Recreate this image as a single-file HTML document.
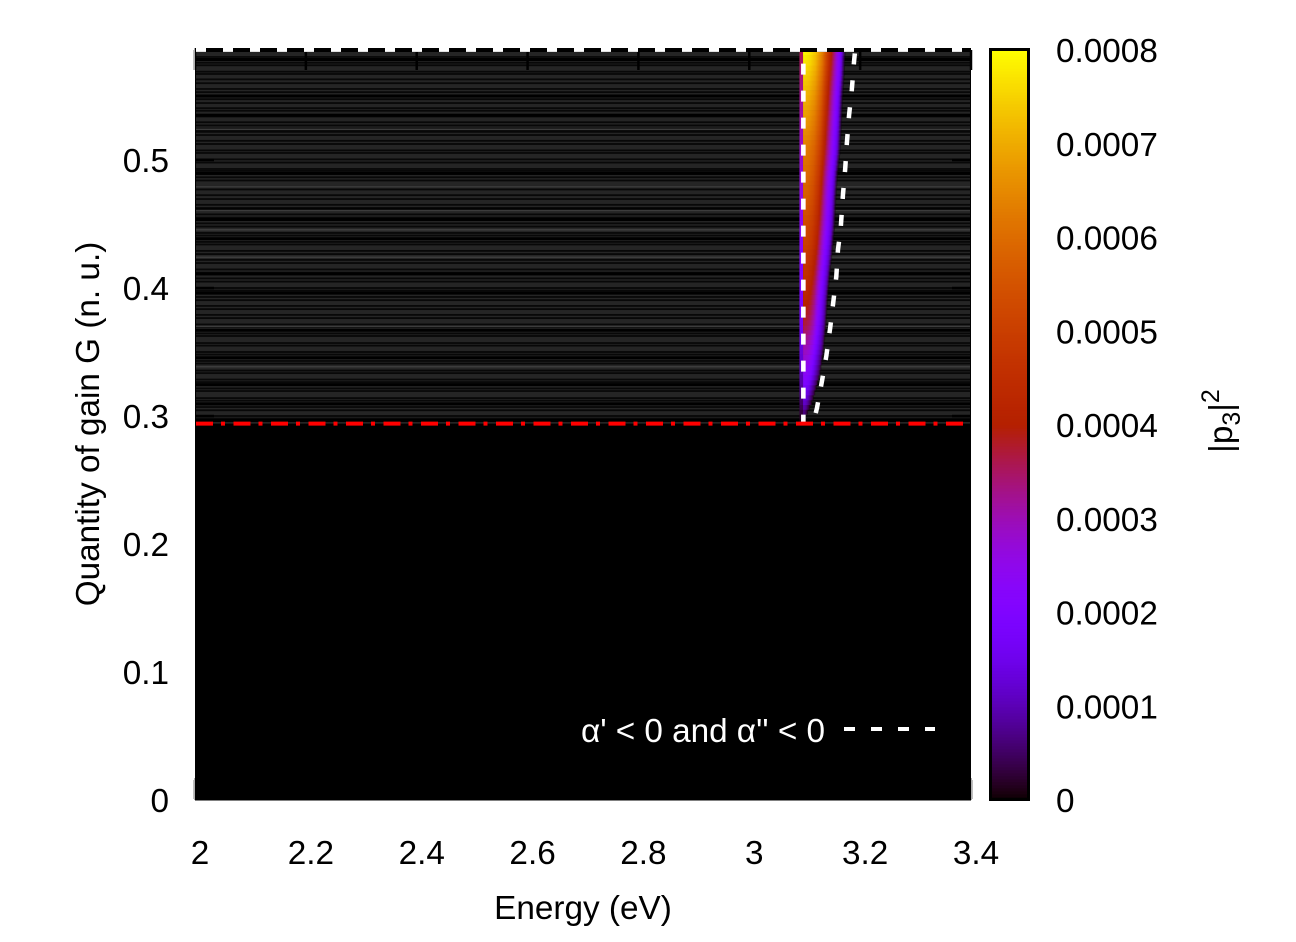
<!DOCTYPE html>
<html>
<head>
<meta charset="utf-8">
<title>Gain versus energy heatmap</title>
<style>
html,body{margin:0;padding:0;background:#fff;}
svg{display:block;}
text{font-family:"Liberation Sans",sans-serif;font-size:33.3px;fill:#000;}
</style>
</head>
<body>
<svg id="chart" xmlns="http://www.w3.org/2000/svg" width="1296" height="942" viewBox="0 0 1296 942">
<defs id="defs"></defs>
<rect width="1296" height="942" fill="#fff"></rect>
<rect x="195" y="48" width="776" height="752" fill="#000"></rect>
<g id="stripes"></g>
<g id="wedge"></g>
<g id="ticks"></g>
<path id="white-left" fill="none" stroke="#fff" stroke-width="4.6" stroke-dasharray="11 16" stroke-dashoffset="2"></path>
<path id="white-right" fill="none" stroke="#fff" stroke-width="4.5" stroke-dasharray="11 16" stroke-dashoffset="16"></path>
<path id="red-line" fill="none" stroke="#ff0000" stroke-width="4" stroke-dasharray="17 8 4 8.5"></path>
<path id="top-line" fill="none" stroke="#fff" stroke-width="4" stroke-dasharray="10 17"></path>
<path d="M195 800.5H971" stroke="#808080" stroke-width="1"></path>
<path d="M194.5 778V800M971.5 778V800M194.5 48V70" stroke="#b0b0b0" stroke-width="1"></path>
<g id="xlabels"></g>
<g id="ylabels"></g>
<text x="583" y="919" text-anchor="middle">Energy (eV)</text>
<text transform="translate(99 424) rotate(-90)" text-anchor="middle">Quantity of gain G (n. u.)</text>
<text x="581" y="742" textLength="244" style="fill:#fff">α' &lt; 0 and α'' &lt; 0</text>
<path d="M844 729H935" fill="none" stroke="#fff" stroke-width="4" stroke-dasharray="11 16"></path>
<g id="colorbar"></g>
<rect x="990.5" y="49.5" width="38" height="750" fill="none" stroke="#000" stroke-width="3"></rect>
<g id="cblabels"></g>
<text transform="translate(1232 421) rotate(-90)" text-anchor="middle">|p<tspan font-size="25" dy="8">3</tspan><tspan dy="-8">|</tspan><tspan font-size="25" dy="-13">2</tspan></text>
</svg>
<script>
var xTicks = [2, 2.2, 2.4, 2.6, 2.8, 3, 3.2, 3.4];
var yTicks = [0, 0.1, 0.2, 0.3, 0.4, 0.5];
var cbTicks = ["0", "0.0001", "0.0002", "0.0003", "0.0004", "0.0005", "0.0006", "0.0007", "0.0008"];
var thresholdG = 0.294;
var topG = 0.586;
var wedgeG = [0.294, 0.3125, 0.332, 0.352, 0.371, 0.391, 0.410, 0.430, 0.449, 0.469, 0.488, 0.508, 0.527, 0.547, 0.566, 0.586];
var wedgeRightE = [3.097, 3.115, 3.128, 3.135, 3.139, 3.142, 3.146, 3.151, 3.155, 3.157, 3.160, 3.165, 3.167, 3.169, 3.172, 3.174];
var wedgePeak = [0.00001, 0.00013, 0.00023, 0.00030, 0.00037, 0.00042, 0.00046, 0.00050, 0.00053, 0.00057, 0.00060, 0.00063, 0.00067, 0.00071, 0.00075, 0.00080];
var profileT = [0, 0.15, 0.3, 0.45, 0.64, 0.83, 0.92, 1];
var profileFrac = [1, 0.98, 0.92, 0.8, 0.54, 0.3, 0.18, 0];
var leftBoundaryE = 3.097;
var leftStripE = 3.0905;
var leftStripFrac = 0.45;
var rightBoundaryE = [3.115, 3.122, 3.131, 3.139, 3.146, 3.151, 3.157, 3.160, 3.165, 3.169, 3.173, 3.176, 3.180, 3.185, 3.189, 3.191];
var rightBoundaryG = [0.294, 0.306, 0.327, 0.347, 0.369, 0.387, 0.409, 0.430, 0.447, 0.473, 0.493, 0.513, 0.535, 0.555, 0.577, 0.586];
var rowGapG = [0.5805, 0.5760, 0.5740, 0.5690, 0.5672, 0.5630, 0.5600, 0.5555, 0.5530, 0.5475, 0.5445, 0.5405, 0.5385, 0.5340, 0.5295, 0.5270,
  0.5220, 0.5195, 0.5150, 0.5125, 0.5075, 0.5055, 0.5005, 0.4980, 0.4930, 0.4915, 0.4865, 0.4840, 0.4790, 0.4770, 0.4725, 0.4695,
  0.4650, 0.4625, 0.4575, 0.4550, 0.4505, 0.4480, 0.4430, 0.4410, 0.4360, 0.4340, 0.4290, 0.4265, 0.4220, 0.4195, 0.4145, 0.4120,
  0.4075, 0.4050, 0.4000, 0.3980, 0.3930, 0.3905, 0.3860, 0.3835, 0.3790, 0.3765, 0.3715, 0.3695, 0.3645, 0.3625, 0.3570, 0.3550,
  0.3500, 0.3480, 0.3430, 0.3410, 0.3355, 0.3335, 0.3285, 0.3265, 0.3215, 0.3195, 0.3140, 0.3120, 0.3070, 0.3045, 0.3000, 0.2980];
var rowDarkG = [0.5785, 0.5500, 0.5350, 0.5240, 0.4895, 0.4610, 0.4535, 0.4385, 0.4110, 0.3960, 0.3670, 0.3455, 0.3245, 0.3095, 0.2965];
var rowLightG = [0.5240, 0.4790, 0.4455, 0.4240, 0.4605, 0.3700, 0.3385];

var SVGNS = "http://www.w3.org/2000/svg";
var CB_MAX = 0.0008;
function xScale(e) { return 195 + (e - 2) / 1.4 * 776; }
function yScale(g) { return 800 - g * 1280; }
function cbScale(v) { return 800 - v / CB_MAX * 750; }
function make(tag, attrs, parent) {
  var el = document.createElementNS(SVGNS, tag);
  for (var k in attrs) { el.setAttribute(k, attrs[k]); }
  parent.appendChild(el);
  return el;
}
function palette(v) {
  var f = Math.max(0, Math.min(1, v / CB_MAX));
  var r = Math.sqrt(f), g = f * f * f, b = Math.max(0, Math.sin(2 * Math.PI * f));
  return "rgb(" + Math.round(r * 255) + "," + Math.round(g * 255) + "," + Math.round(b * 255) + ")";
}
function profile(t) {
  for (var i = 1; i < profileT.length; i++) {
    if (t <= profileT[i]) {
      var a = (t - profileT[i - 1]) / (profileT[i] - profileT[i - 1]);
      return profileFrac[i - 1] + a * (profileFrac[i] - profileFrac[i - 1]);
    }
  }
  return profileFrac[profileFrac.length - 1];
}

var stripes = document.getElementById("stripes");
var baseRow = make("rect", {x: 196, y: yScale(topG) + 2, width: 774, height: yScale(thresholdG) - yScale(topG) - 2, fill: "#252525"}, stripes);


rowGapG.forEach(function (g) {
  var gap = make("rect", {x: 196, y: yScale(g) - 0.9, width: 774, height: 1.8, fill: "#080808"}, stripes);
  
  
});
rowDarkG.forEach(function (g) {
  var dark = make("rect", {x: 196, y: yScale(g) - 1.5, width: 774, height: 3, fill: "#000"}, stripes);
  
  
});
rowLightG.forEach(function (g) {
  var light = make("rect", {x: 196, y: yScale(g) - 0.8, width: 774, height: 1.6, fill: "#3c3c3c"}, stripes);
  
  
});

var defs = document.getElementById("defs");
var wedge = document.getElementById("wedge");
var SUB = 5, STOPS = 24, gid = 0;
for (var i = 0; i < wedgeG.length - 1; i++) {
  for (var s = 0; s < SUB; s++) {
    var a = s / SUB, b = (s + 1) / SUB, m = (a + b) / 2;
    var g0 = wedgeG[i] + a * (wedgeG[i + 1] - wedgeG[i]);
    var g1 = wedgeG[i] + b * (wedgeG[i + 1] - wedgeG[i]);
    var right = wedgeRightE[i] + m * (wedgeRightE[i + 1] - wedgeRightE[i]);
    var peak = wedgePeak[i] + m * (wedgePeak[i + 1] - wedgePeak[i]);
    var x0 = xScale(leftBoundaryE), x1 = xScale(right);
    var y1 = yScale(g1), h = yScale(g0) - y1;
    var id = "wg" + (gid++);
    var grad = make("linearGradient", {id: id, gradientUnits: "userSpaceOnUse", x1: x0, y1: 0, x2: x1, y2: 0}, defs);
    for (var k = 0; k <= STOPS; k++) {
      var t = k / STOPS;
      make("stop", {offset: t, "stop-color": palette(peak * profile(t)), "stop-opacity": t > 0.9 ? (1 - t) * 10 * 0.6 + 0.4 : 1}, grad);
    }
    var strip = make("rect", {x: xScale(leftStripE), y: y1, width: x0 - xScale(leftStripE), height: h + 0.3, fill: palette(peak * leftStripFrac)}, wedge);
    
    
    var cell = make("rect", {x: x0, y: y1, width: Math.max(0.1, x1 - x0), height: h + 0.3, fill: "url(#" + id + ")"}, wedge);
    
    
  }
}

var ticks = document.getElementById("ticks");
var tickPath = "";
xTicks.forEach(function (v) {
  var x = xScale(v);
  tickPath += "M" + x + " 50V70M" + x + " 799V780";
});
yTicks.forEach(function (v) {
  var y = Math.min(yScale(v), 799);
  tickPath += "M196 " + y + "H214M970 " + y + "H952";
});
var tickEl = make("path", {d: tickPath, stroke: "#000", "stroke-width": 2.5, fill: "none"}, ticks);


var frame = make("path", {d: "M196 50H970", stroke: "#000", "stroke-width": 4, fill: "none"}, ticks);



var xl = document.getElementById("xlabels");
xTicks.forEach(function (v) {
  var t = make("text", {x: xScale(v) + 5, y: 864, "text-anchor": "middle"}, xl);
  
  
  t.textContent = String(v);
});
var yl = document.getElementById("ylabels");
yTicks.forEach(function (v) {
  var t = make("text", {x: 169, y: yScale(v) + 12, "text-anchor": "end"}, yl);
  
  
  t.textContent = String(v);
});

var cb = document.getElementById("colorbar");
for (var c = 0; c < 250; c++) {
  var val0 = c / 250 * CB_MAX, val1 = (c + 1) / 250 * CB_MAX;
  var band = make("rect", {x: 990, y: cbScale(val1), width: 38, height: cbScale(val0) - cbScale(val1) + 0.4, fill: palette((val0 + val1) / 2)}, cb);
  
  
}
var cbl = document.getElementById("cblabels");
cbTicks.forEach(function (v) {
  var t = make("text", {x: 1056, y: cbScale(parseFloat(v)) + 12}, cbl);
  
  
  t.textContent = v;
});

document.getElementById("white-left").setAttribute("d", "M" + (xScale(leftBoundaryE) + 0.3) + " " + yScale(thresholdG) + "V" + yScale(topG));
var rp = rightBoundaryE.map(function (e, i) { return (i ? "L" : "M") + xScale(e) + " " + yScale(rightBoundaryG[i]); }).join("");
document.getElementById("white-right").setAttribute("d", rp);
document.getElementById("red-line").setAttribute("d", "M196 " + yScale(thresholdG) + "H970");
document.getElementById("top-line").setAttribute("d", "M196 " + yScale(topG) + "H970");
</script>
</body>
</html>
